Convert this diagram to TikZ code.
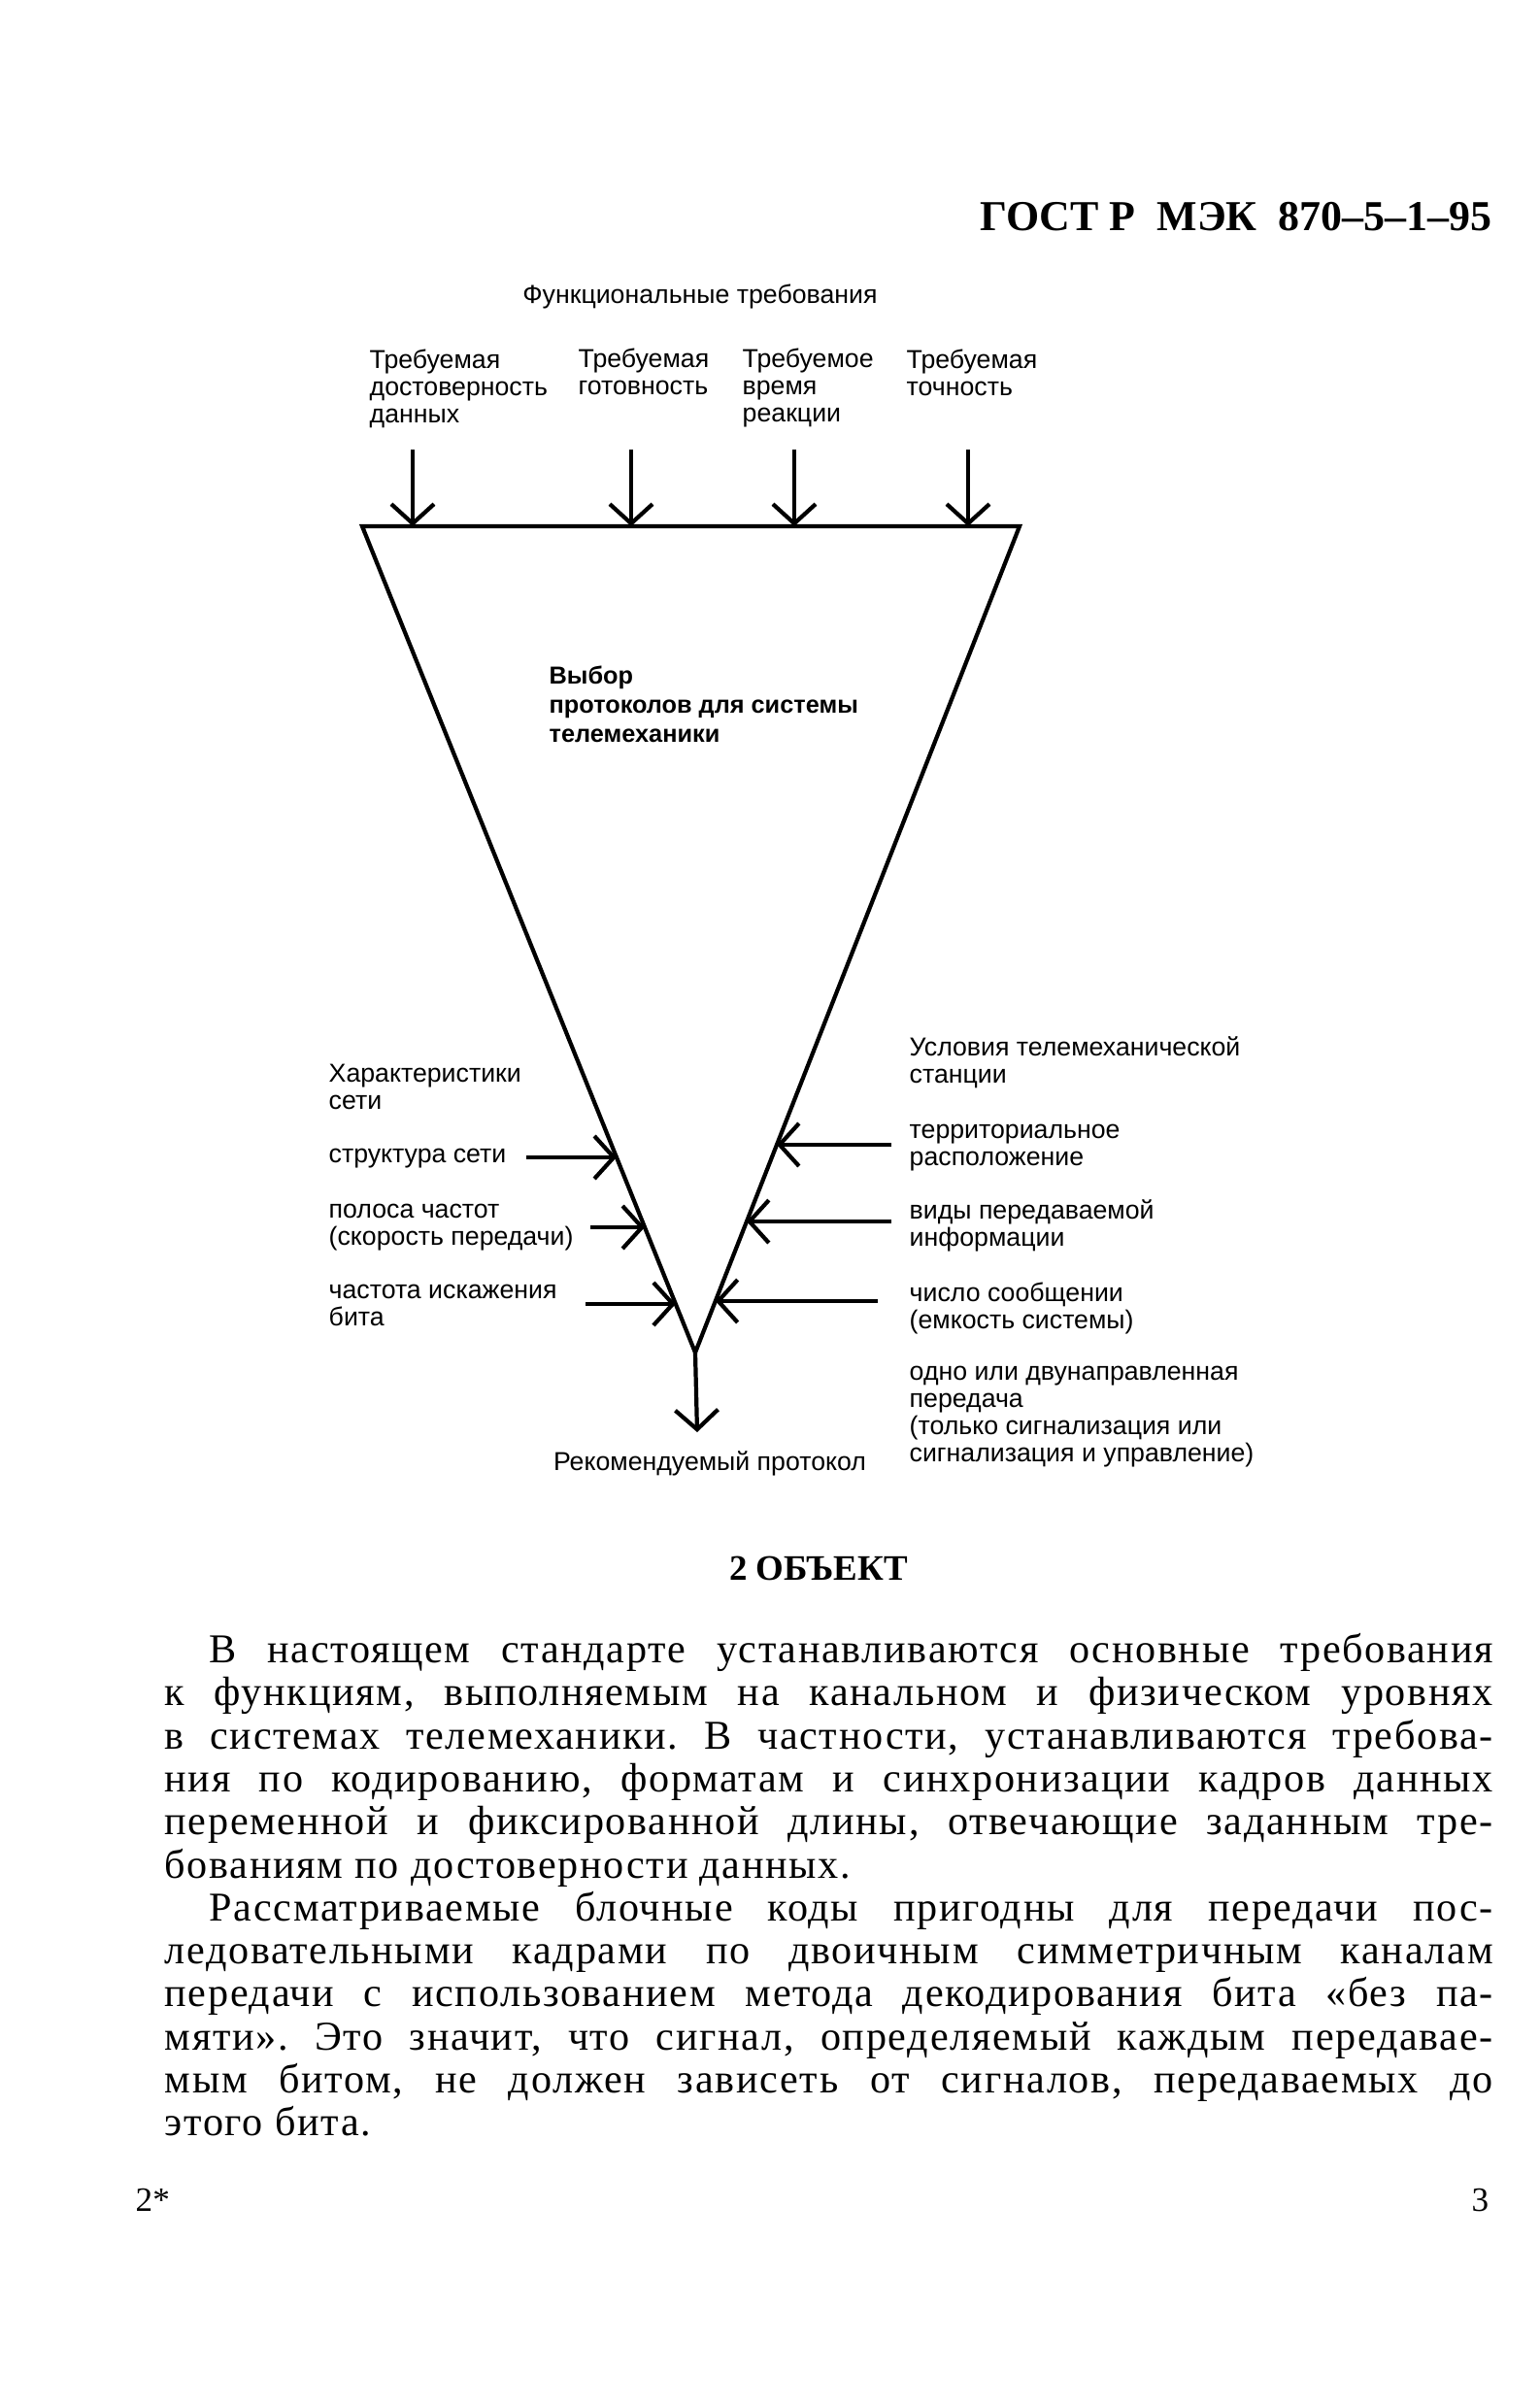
\documentclass[tikz,border=0pt]{standalone}
\usepackage{fontspec}
\setmainfont{Liberation Serif}
\newfontfamily\diafont{Liberation Sans}
\newfontfamily\bodyfont[LetterSpace=4]{Liberation Serif}
\usepackage{tikz}
\usetikzlibrary{arrows.meta, positioning, calc}

\newcommand{\fullline}[1]{\makebox[13.68cm][s]{#1}}
\newcommand{\indline}[1]{\makebox[13.22cm][s]{#1}}

\begin{document}
\begin{tikzpicture}[x=1cm,y=-1cm,
  >={Straight Barb[length=2mm,width=4.4mm]},
  arr/.style={->,line width=1.2pt},
  edge/.style={line width=1.2pt,line join=miter},
  lbl/.style={font=\diafont\fontsize{7.6}{7.9}\selectfont,align=left,inner sep=0pt,anchor=base west},
  body/.style={font=\bodyfont\fontsize{12}{14}\selectfont\frenchspacing,inner sep=0pt,anchor=base west}]
  \useasboundingbox (0,0) rectangle (15.86,24.79);

  % Page head
  \node[anchor=base east,inner sep=0pt,font=\bfseries\fontsize{12.5}{15}\selectfont] (gost) at (15.37,2.37) {ГОСТ Р\ \ МЭК\ \ 870–5–1–95};

  % Triangle vertices
  \coordinate (TL) at (3.73,5.42);
  \coordinate (TR) at (10.50,5.42);
  \coordinate (V) at (7.16,13.93);
  \coordinate (out) at (7.18,14.75);

  % Draw triangle
  \draw[edge] (TL) -- (TR) -- (V) -- cycle;
  \draw[arr] (V) -- (out);

  % Requirements on top (base = last line)
  \node[lbl,anchor=base] (func) at (7.21,3.12) {Функциональные требования};
  \node[lbl] (req1) at (3.80,4.35) {Требуемая\\достоверность\\данных};
  \node[lbl] (req2) at (5.95,4.06) {Требуемая\\готовность};
  \node[lbl] (req3) at (7.64,4.34) {Требуемое\\время\\реакции};
  \node[lbl] (req4) at (9.33,4.07) {Требуемая\\точность};

  \coordinate (in1) at (4.25,4.63);
  \coordinate (in2) at (6.50,4.63);
  \coordinate (in3) at (8.18,4.63);
  \coordinate (in4) at (9.97,4.63);
  \draw[arr] (in1) -- (in1 |- TL);
  \draw[arr] (in2) -- (in2 |- TL);
  \draw[arr] (in3) -- (in3 |- TL);
  \draw[arr] (in4) -- (in4 |- TL);

  % Inside
  \node[lbl,font=\diafont\bfseries\fontsize{7.2}{8.5}\selectfont] (choice) at (5.65,7.64) {Выбор\\протоколов для системы\\телемеханики};

  % Network side
  \node[lbl] (net) at (3.38,11.42) {Характеристики\\сети};
  \node[lbl] (net1) at (3.38,11.97) {структура сети};
  \node[lbl] (net2) at (3.38,12.82) {полоса частот\\(скорость передачи)};
  \node[lbl] (net3) at (3.38,13.65) {частота искажения\\бита};

  \coordinate (s1) at ($(TL)!0.7638!(V)$);
  \coordinate (s2) at ($(TL)!0.8484!(V)$);
  \coordinate (s3) at ($(TL)!0.9412!(V)$);
  \coordinate (n1) at ($(s1)+(-0.93,0)$);
  \coordinate (n2) at ($(s2)+(-0.56,0)$);
  \coordinate (n3) at ($(s3)+(-0.93,0)$);
  \draw[arr] (n1) -- (s1);
  \draw[arr] (n2) -- (s2);
  \draw[arr] (n3) -- (s3);

  % Station side
  \node[lbl] (sta) at (9.36,11.15) {Условия телемеханической\\станции};
  \node[lbl] (sta1) at (9.36,12.00) {территориальное\\расположение};
  \node[lbl] (sta2) at (9.36,12.83) {виды передаваемой\\информации};
  \node[lbl] (sta3) at (9.36,13.68) {число сообщении\\(емкость системы)};
  \node[lbl] (sta4) at (9.36,15.05) {одно или двунаправленная\\передача\\(только сигнализация или\\сигнализация и управление)};

  \coordinate (r1) at ($(TR)!0.7485!(V)$);
  \coordinate (r2) at ($(TR)!0.8414!(V)$);
  \coordinate (r3) at ($(TR)!0.9377!(V)$);
  \coordinate (m1) at ($(r1)+(1.18,0)$);
  \coordinate (m2) at ($(r2)+(1.49,0)$);
  \coordinate (m3) at ($(r3)+(1.67,0)$);
  \draw[arr] (m1) -- (r1);
  \draw[arr] (m2) -- (r2);
  \draw[arr] (m3) -- (r3);

  % Result
  \node[lbl,anchor=base] (rec) at (7.31,15.14) {Рекомендуемый протокол};

  % Section text
  \node[anchor=base,inner sep=0pt,font=\bfseries\fontsize{10.5}{12}\selectfont] (sec) at (8.43,16.27) {2 ОБЪЕКТ};

  \node[body] (p1) at (2.15,17.12) {\indline{В настоящем стандарте устанавливаются основные требования}};
  \node[body] (p2) at (1.69,17.56) {\fullline{к функциям, выполняемым на канальном и физическом уровнях}};
  \node[body] (p3) at (1.69,18.01) {\fullline{в системах телемеханики. В частности, устанавливаются требова-}};
  \node[body] (p4) at (1.69,18.45) {\fullline{ния по кодированию, форматам и синхронизации кадров данных}};
  \node[body] (p5) at (1.69,18.89) {\fullline{переменной и фиксированной длины, отвечающие заданным тре-}};
  \node[body] (p6) at (1.69,19.34) {бованиям по достоверности данных.};
  \node[body] (p7) at (2.15,19.78) {\indline{Рассматриваемые блочные коды пригодны для передачи пос-}};
  \node[body] (p8) at (1.69,20.22) {\fullline{ледовательными кадрами по двоичным симметричным каналам}};
  \node[body] (p9) at (1.69,20.66) {\fullline{передачи с использованием метода декодирования бита «без па-}};
  \node[body] (p10) at (1.69,21.11) {\fullline{мяти». Это значит, что сигнал, определяемый каждым передавае-}};
  \node[body] (p11) at (1.69,21.55) {\fullline{мым битом, не должен зависеть от сигналов, передаваемых до}};
  \node[body] (p12) at (1.69,21.99) {этого бита.};

  % Page numbers
  \node[anchor=base west,inner sep=0pt,font=\fontsize{10}{12}\selectfont] (pgl) at (1.39,22.77) {2*};
  \node[anchor=base east,inner sep=0pt,font=\fontsize{10}{12}\selectfont] (pgr) at (15.34,22.77) {3};
\end{tikzpicture}
\end{document}
